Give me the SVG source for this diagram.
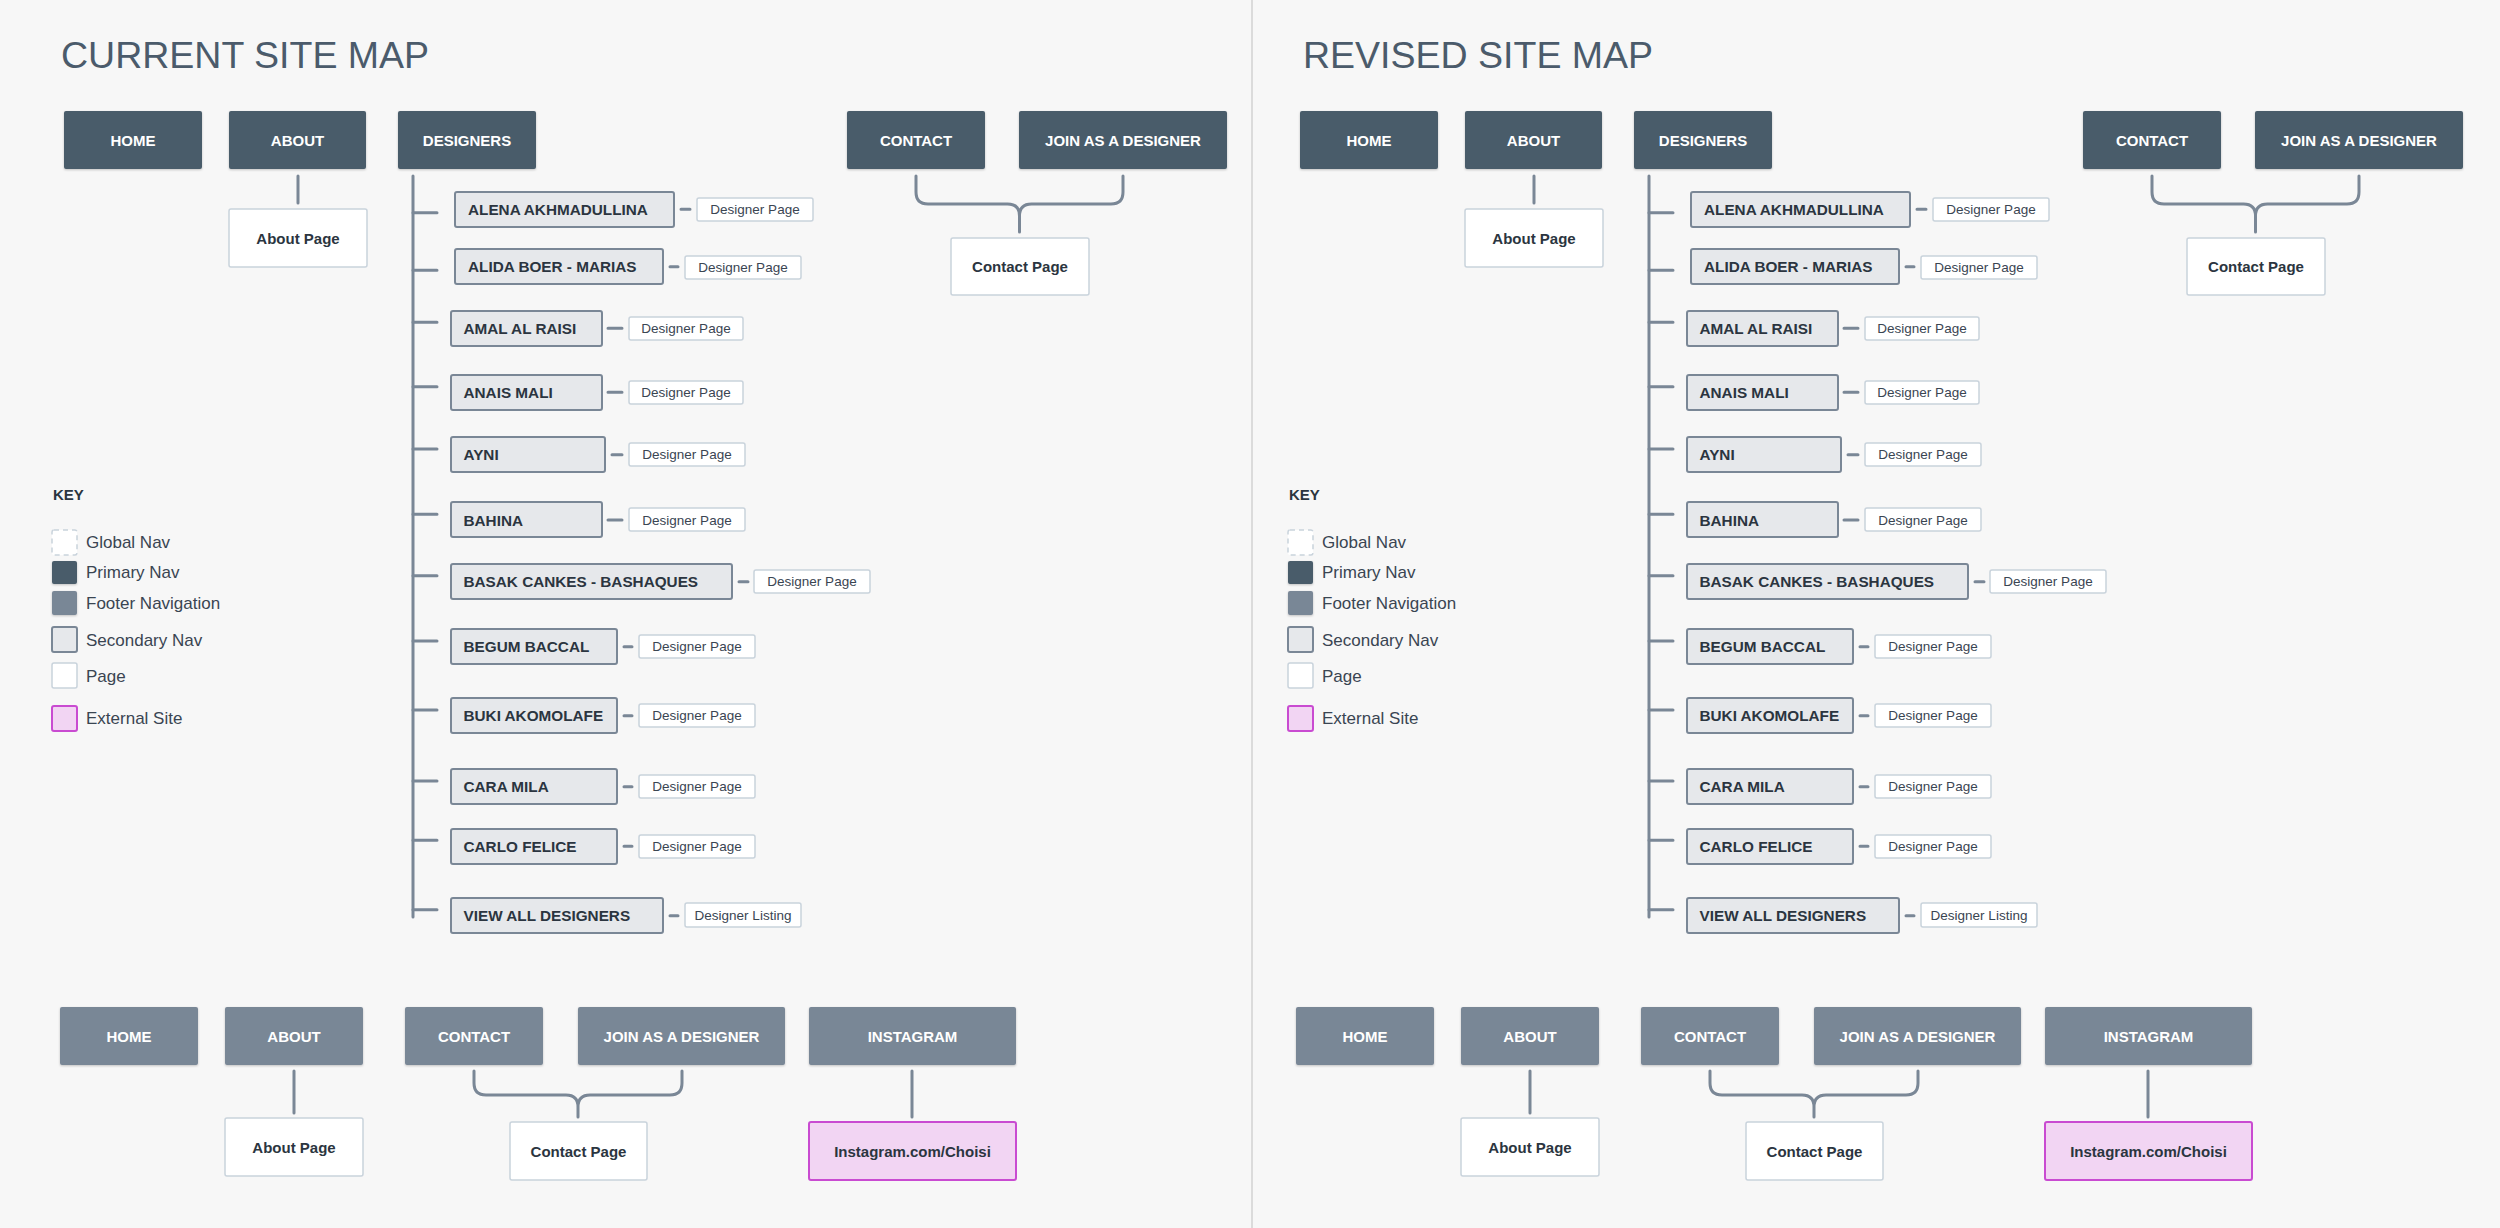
<svg xmlns="http://www.w3.org/2000/svg" width="2500" height="1228" viewBox="0 0 2500 1228">
<style>
.title{font-family:"Liberation Sans",Arial,sans-serif;font-size:37.5px;fill:#4b5b6b}
.pn{fill:#4a5b6b}
.fn{fill:#798796}
.sn{fill:#e6e8eb;stroke:#7a8796;stroke-width:2}
.pg{fill:#fff;stroke:#c9d3dc;stroke-width:1.5}
.ext{fill:#f2d5f3;stroke:#c94bd1;stroke-width:2}
.gn{fill:#fff;stroke:#c9d3dc;stroke-width:1.5;stroke-dasharray:5 4}
.tw{font-family:"Liberation Sans",Arial,sans-serif;font-weight:bold;font-size:15px;fill:#fff;text-anchor:middle}
.td{font-family:"Liberation Sans",Arial,sans-serif;font-weight:bold;font-size:15px;fill:#2b3540;text-anchor:middle}
.ts{font-family:"Liberation Sans",Arial,sans-serif;font-weight:bold;font-size:15.3px;fill:#2b3540}
.tp{font-family:"Liberation Sans",Arial,sans-serif;font-size:13.5px;fill:#3a4552;text-anchor:middle}
.tk{font-family:"Liberation Sans",Arial,sans-serif;font-weight:bold;font-size:15px;fill:#2b3540}
.tl{font-family:"Liberation Sans",Arial,sans-serif;font-size:17px;fill:#3a4552}
.conn{stroke:#7a8796;stroke-width:3;fill:none;stroke-linecap:round}
.dash{stroke:#7a8796;stroke-width:3;fill:none;stroke-linecap:round}
</style>
<defs>
<filter id="sh" x="-10%" y="-10%" width="120%" height="130%">
<feDropShadow dx="0" dy="1" stdDeviation="1.2" flood-color="#000" flood-opacity="0.22"/>
</filter>
</defs>
<rect x="0" y="0" width="2500" height="1228" fill="#f7f7f7"/>
<line x1="1252" y1="0" x2="1252" y2="1228" stroke="#c8c8c8" stroke-width="1.2"/>

<!-- ===================== CURRENT ===================== -->
<g id="current">
<text class="title" x="61" y="68">CURRENT SITE MAP</text>

<g id="cur-connectors">
<path class="conn" d="M298,176 V203"/>
<path class="conn" d="M413,176 V917"/>
<path class="conn" d="M413,212.7 H437 M413,270.3 H437 M413,322.3 H437 M413,386.7 H437 M413,449 H437 M413,514.3 H437 M413,575.7 H437 M413,641 H437 M413,710 H437 M413,781 H437 M413,840.3 H437 M413,909.7 H437"/>
<path class="dash" d="M681,209.3 H690 M670,266.7 H678 M608,328.3 H622 M608,392.3 H622 M612,454.7 H622 M608,520 H622 M739,581.7 H748 M624,646.7 H632 M624,715.7 H632 M624,786.7 H632 M624,846.3 H632 M670,915.7 H678"/>
<path class="conn" d="M916,176 V192 Q916,204 928,204 H1007.5 Q1019.5,204 1019.5,216 V232 M1123,176 V192 Q1123,204 1111,204 H1031.5 Q1019.5,204 1019.5,216"/>
<path class="conn" d="M294,1071 V1113"/>
<path class="conn" d="M474,1071 V1083 Q474,1095 486,1095 H566 Q578,1095 578,1107 V1117 M682,1071 V1083 Q682,1095 670,1095 H590 Q578,1095 578,1107"/>
<path class="conn" d="M912,1071 V1117"/>
</g>

<g id="cur-home"><rect class="pn" filter="url(#sh)" x="64" y="111" width="138" height="58" rx="2"/><text class="tw" x="133" y="146">HOME</text></g>
<g id="cur-about"><rect class="pn" filter="url(#sh)" x="229" y="111" width="137" height="58" rx="2"/><text class="tw" x="297.5" y="146">ABOUT</text></g>
<g id="cur-designers"><rect class="pn" filter="url(#sh)" x="398" y="111" width="138" height="58" rx="2"/><text class="tw" x="467" y="146">DESIGNERS</text></g>
<g id="cur-contact"><rect class="pn" filter="url(#sh)" x="847" y="111" width="138" height="58" rx="2"/><text class="tw" x="916" y="146">CONTACT</text></g>
<g id="cur-join"><rect class="pn" filter="url(#sh)" x="1019" y="111" width="208" height="58" rx="2"/><text class="tw" x="1123" y="146">JOIN AS A DESIGNER</text></g>

<g id="cur-about-page"><rect class="pg" x="229" y="209" width="138" height="58" rx="2"/><text class="td" x="298" y="243.5">About Page</text></g>
<g id="cur-contact-page"><rect class="pg" x="951" y="238" width="138" height="57" rx="2"/><text class="td" x="1020" y="272">Contact Page</text></g>

<g id="cur-d1"><rect class="sn" x="455" y="192" width="219" height="35" rx="2"/><text class="ts" x="468" y="215">ALENA AKHMADULLINA</text></g>
<g id="cur-d1p"><rect class="pg" x="697" y="198" width="116" height="23" rx="2"/><text class="tp" x="755" y="214">Designer Page</text></g>
<g id="cur-d2"><rect class="sn" x="455" y="249" width="208" height="35" rx="2"/><text class="ts" x="468" y="272">ALIDA BOER - MARIAS</text></g>
<g id="cur-d2p"><rect class="pg" x="685" y="256" width="116" height="23" rx="2"/><text class="tp" x="743" y="272">Designer Page</text></g>
<g id="cur-d3"><rect class="sn" x="451" y="311" width="151" height="35" rx="2"/><text class="ts" x="463.5" y="334">AMAL AL RAISI</text></g>
<g id="cur-d3p"><rect class="pg" x="629" y="317" width="114" height="23" rx="2"/><text class="tp" x="686" y="333">Designer Page</text></g>
<g id="cur-d4"><rect class="sn" x="451" y="375" width="151" height="35" rx="2"/><text class="ts" x="463.5" y="398">ANAIS MALI</text></g>
<g id="cur-d4p"><rect class="pg" x="629" y="381" width="114" height="23" rx="2"/><text class="tp" x="686" y="397">Designer Page</text></g>
<g id="cur-d5"><rect class="sn" x="451" y="437" width="154" height="35" rx="2"/><text class="ts" x="463.5" y="460">AYNI</text></g>
<g id="cur-d5p"><rect class="pg" x="629" y="443" width="116" height="23" rx="2"/><text class="tp" x="687" y="459">Designer Page</text></g>
<g id="cur-d6"><rect class="sn" x="451" y="502" width="151" height="35" rx="2"/><text class="ts" x="463.5" y="525.5">BAHINA</text></g>
<g id="cur-d6p"><rect class="pg" x="629" y="508" width="116" height="23" rx="2"/><text class="tp" x="687" y="524.5">Designer Page</text></g>
<g id="cur-d7"><rect class="sn" x="451" y="564" width="281" height="35" rx="2"/><text class="ts" x="463.5" y="587">BASAK CANKES - BASHAQUES</text></g>
<g id="cur-d7p"><rect class="pg" x="754" y="570" width="116" height="23" rx="2"/><text class="tp" x="812" y="586">Designer Page</text></g>
<g id="cur-d8"><rect class="sn" x="451" y="629" width="166" height="35" rx="2"/><text class="ts" x="463.5" y="652">BEGUM BACCAL</text></g>
<g id="cur-d8p"><rect class="pg" x="639" y="635" width="116" height="23" rx="2"/><text class="tp" x="697" y="651">Designer Page</text></g>
<g id="cur-d9"><rect class="sn" x="451" y="698" width="166" height="35" rx="2"/><text class="ts" x="463.5" y="721">BUKI AKOMOLAFE</text></g>
<g id="cur-d9p"><rect class="pg" x="639" y="704" width="116" height="23" rx="2"/><text class="tp" x="697" y="720">Designer Page</text></g>
<g id="cur-d10"><rect class="sn" x="451" y="769" width="166" height="35" rx="2"/><text class="ts" x="463.5" y="792">CARA MILA</text></g>
<g id="cur-d10p"><rect class="pg" x="639" y="775" width="116" height="23" rx="2"/><text class="tp" x="697" y="791">Designer Page</text></g>
<g id="cur-d11"><rect class="sn" x="451" y="829" width="166" height="35" rx="2"/><text class="ts" x="463.5" y="852">CARLO FELICE</text></g>
<g id="cur-d11p"><rect class="pg" x="639" y="835" width="116" height="23" rx="2"/><text class="tp" x="697" y="851">Designer Page</text></g>
<g id="cur-d12"><rect class="sn" x="451" y="898" width="212" height="35" rx="2"/><text class="ts" x="463.5" y="921">VIEW ALL DESIGNERS</text></g>
<g id="cur-d12p"><rect class="pg" x="685" y="903" width="116" height="24" rx="2"/><text class="tp" x="743" y="919.5">Designer Listing</text></g>

<g id="cur-key">
<text class="tk" x="53" y="500">KEY</text>
<rect class="gn" x="52" y="530" width="25" height="25" rx="2"/><text class="tl" x="86" y="548">Global Nav</text>
<rect class="pn" filter="url(#sh)" x="52" y="561" width="25" height="23" rx="2"/><text class="tl" x="86" y="578">Primary Nav</text>
<rect class="fn" filter="url(#sh)" x="52" y="591" width="25" height="24" rx="2"/><text class="tl" x="86" y="609">Footer Navigation</text>
<rect class="sn" x="52" y="627" width="25" height="25" rx="2"/><text class="tl" x="86" y="646">Secondary Nav</text>
<rect class="pg" x="52" y="663" width="25" height="25" rx="2"/><text class="tl" x="86" y="682">Page</text>
<rect class="ext" x="52" y="706" width="25" height="25" rx="2"/><text class="tl" x="86" y="724">External Site</text>
</g>

<g id="cur-f-home"><rect class="fn" filter="url(#sh)" x="60" y="1007" width="138" height="58" rx="2"/><text class="tw" x="129" y="1042">HOME</text></g>
<g id="cur-f-about"><rect class="fn" filter="url(#sh)" x="225" y="1007" width="138" height="58" rx="2"/><text class="tw" x="294" y="1042">ABOUT</text></g>
<g id="cur-f-contact"><rect class="fn" filter="url(#sh)" x="405" y="1007" width="138" height="58" rx="2"/><text class="tw" x="474" y="1042">CONTACT</text></g>
<g id="cur-f-join"><rect class="fn" filter="url(#sh)" x="578" y="1007" width="207" height="58" rx="2"/><text class="tw" x="681.5" y="1042">JOIN AS A DESIGNER</text></g>
<g id="cur-f-instagram"><rect class="fn" filter="url(#sh)" x="809" y="1007" width="207" height="58" rx="2"/><text class="tw" x="912.5" y="1042">INSTAGRAM</text></g>
<g id="cur-f-about-page"><rect class="pg" x="225" y="1118" width="138" height="58" rx="2"/><text class="td" x="294" y="1152.5">About Page</text></g>
<g id="cur-f-contact-page"><rect class="pg" x="510" y="1122" width="137" height="58" rx="2"/><text class="td" x="578.5" y="1156.5">Contact Page</text></g>
<g id="cur-f-instagram-site"><rect class="ext" x="809" y="1122" width="207" height="58" rx="2"/><text class="td" x="912.5" y="1156.5">Instagram.com/Choisi</text></g>
</g>

<!-- ===================== REVISED ===================== -->
<g id="revised" transform="translate(1236 0)">
<text class="title" x="67" y="68">REVISED SITE MAP</text>

<g id="rev-connectors">
<path class="conn" d="M298,176 V203"/>
<path class="conn" d="M413,176 V917"/>
<path class="conn" d="M413,212.7 H437 M413,270.3 H437 M413,322.3 H437 M413,386.7 H437 M413,449 H437 M413,514.3 H437 M413,575.7 H437 M413,641 H437 M413,710 H437 M413,781 H437 M413,840.3 H437 M413,909.7 H437"/>
<path class="dash" d="M681,209.3 H690 M670,266.7 H678 M608,328.3 H622 M608,392.3 H622 M612,454.7 H622 M608,520 H622 M739,581.7 H748 M624,646.7 H632 M624,715.7 H632 M624,786.7 H632 M624,846.3 H632 M670,915.7 H678"/>
<path class="conn" d="M916,176 V192 Q916,204 928,204 H1007.5 Q1019.5,204 1019.5,216 V232 M1123,176 V192 Q1123,204 1111,204 H1031.5 Q1019.5,204 1019.5,216"/>
<path class="conn" d="M294,1071 V1113"/>
<path class="conn" d="M474,1071 V1083 Q474,1095 486,1095 H566 Q578,1095 578,1107 V1117 M682,1071 V1083 Q682,1095 670,1095 H590 Q578,1095 578,1107"/>
<path class="conn" d="M912,1071 V1117"/>
</g>

<g id="rev-home"><rect class="pn" filter="url(#sh)" x="64" y="111" width="138" height="58" rx="2"/><text class="tw" x="133" y="146">HOME</text></g>
<g id="rev-about"><rect class="pn" filter="url(#sh)" x="229" y="111" width="137" height="58" rx="2"/><text class="tw" x="297.5" y="146">ABOUT</text></g>
<g id="rev-designers"><rect class="pn" filter="url(#sh)" x="398" y="111" width="138" height="58" rx="2"/><text class="tw" x="467" y="146">DESIGNERS</text></g>
<g id="rev-contact"><rect class="pn" filter="url(#sh)" x="847" y="111" width="138" height="58" rx="2"/><text class="tw" x="916" y="146">CONTACT</text></g>
<g id="rev-join"><rect class="pn" filter="url(#sh)" x="1019" y="111" width="208" height="58" rx="2"/><text class="tw" x="1123" y="146">JOIN AS A DESIGNER</text></g>

<g id="rev-about-page"><rect class="pg" x="229" y="209" width="138" height="58" rx="2"/><text class="td" x="298" y="243.5">About Page</text></g>
<g id="rev-contact-page"><rect class="pg" x="951" y="238" width="138" height="57" rx="2"/><text class="td" x="1020" y="272">Contact Page</text></g>

<g id="rev-d1"><rect class="sn" x="455" y="192" width="219" height="35" rx="2"/><text class="ts" x="468" y="215">ALENA AKHMADULLINA</text></g>
<g id="rev-d1p"><rect class="pg" x="697" y="198" width="116" height="23" rx="2"/><text class="tp" x="755" y="214">Designer Page</text></g>
<g id="rev-d2"><rect class="sn" x="455" y="249" width="208" height="35" rx="2"/><text class="ts" x="468" y="272">ALIDA BOER - MARIAS</text></g>
<g id="rev-d2p"><rect class="pg" x="685" y="256" width="116" height="23" rx="2"/><text class="tp" x="743" y="272">Designer Page</text></g>
<g id="rev-d3"><rect class="sn" x="451" y="311" width="151" height="35" rx="2"/><text class="ts" x="463.5" y="334">AMAL AL RAISI</text></g>
<g id="rev-d3p"><rect class="pg" x="629" y="317" width="114" height="23" rx="2"/><text class="tp" x="686" y="333">Designer Page</text></g>
<g id="rev-d4"><rect class="sn" x="451" y="375" width="151" height="35" rx="2"/><text class="ts" x="463.5" y="398">ANAIS MALI</text></g>
<g id="rev-d4p"><rect class="pg" x="629" y="381" width="114" height="23" rx="2"/><text class="tp" x="686" y="397">Designer Page</text></g>
<g id="rev-d5"><rect class="sn" x="451" y="437" width="154" height="35" rx="2"/><text class="ts" x="463.5" y="460">AYNI</text></g>
<g id="rev-d5p"><rect class="pg" x="629" y="443" width="116" height="23" rx="2"/><text class="tp" x="687" y="459">Designer Page</text></g>
<g id="rev-d6"><rect class="sn" x="451" y="502" width="151" height="35" rx="2"/><text class="ts" x="463.5" y="525.5">BAHINA</text></g>
<g id="rev-d6p"><rect class="pg" x="629" y="508" width="116" height="23" rx="2"/><text class="tp" x="687" y="524.5">Designer Page</text></g>
<g id="rev-d7"><rect class="sn" x="451" y="564" width="281" height="35" rx="2"/><text class="ts" x="463.5" y="587">BASAK CANKES - BASHAQUES</text></g>
<g id="rev-d7p"><rect class="pg" x="754" y="570" width="116" height="23" rx="2"/><text class="tp" x="812" y="586">Designer Page</text></g>
<g id="rev-d8"><rect class="sn" x="451" y="629" width="166" height="35" rx="2"/><text class="ts" x="463.5" y="652">BEGUM BACCAL</text></g>
<g id="rev-d8p"><rect class="pg" x="639" y="635" width="116" height="23" rx="2"/><text class="tp" x="697" y="651">Designer Page</text></g>
<g id="rev-d9"><rect class="sn" x="451" y="698" width="166" height="35" rx="2"/><text class="ts" x="463.5" y="721">BUKI AKOMOLAFE</text></g>
<g id="rev-d9p"><rect class="pg" x="639" y="704" width="116" height="23" rx="2"/><text class="tp" x="697" y="720">Designer Page</text></g>
<g id="rev-d10"><rect class="sn" x="451" y="769" width="166" height="35" rx="2"/><text class="ts" x="463.5" y="792">CARA MILA</text></g>
<g id="rev-d10p"><rect class="pg" x="639" y="775" width="116" height="23" rx="2"/><text class="tp" x="697" y="791">Designer Page</text></g>
<g id="rev-d11"><rect class="sn" x="451" y="829" width="166" height="35" rx="2"/><text class="ts" x="463.5" y="852">CARLO FELICE</text></g>
<g id="rev-d11p"><rect class="pg" x="639" y="835" width="116" height="23" rx="2"/><text class="tp" x="697" y="851">Designer Page</text></g>
<g id="rev-d12"><rect class="sn" x="451" y="898" width="212" height="35" rx="2"/><text class="ts" x="463.5" y="921">VIEW ALL DESIGNERS</text></g>
<g id="rev-d12p"><rect class="pg" x="685" y="903" width="116" height="24" rx="2"/><text class="tp" x="743" y="919.5">Designer Listing</text></g>

<g id="rev-key">
<text class="tk" x="53" y="500">KEY</text>
<rect class="gn" x="52" y="530" width="25" height="25" rx="2"/><text class="tl" x="86" y="548">Global Nav</text>
<rect class="pn" filter="url(#sh)" x="52" y="561" width="25" height="23" rx="2"/><text class="tl" x="86" y="578">Primary Nav</text>
<rect class="fn" filter="url(#sh)" x="52" y="591" width="25" height="24" rx="2"/><text class="tl" x="86" y="609">Footer Navigation</text>
<rect class="sn" x="52" y="627" width="25" height="25" rx="2"/><text class="tl" x="86" y="646">Secondary Nav</text>
<rect class="pg" x="52" y="663" width="25" height="25" rx="2"/><text class="tl" x="86" y="682">Page</text>
<rect class="ext" x="52" y="706" width="25" height="25" rx="2"/><text class="tl" x="86" y="724">External Site</text>
</g>

<g id="rev-f-home"><rect class="fn" filter="url(#sh)" x="60" y="1007" width="138" height="58" rx="2"/><text class="tw" x="129" y="1042">HOME</text></g>
<g id="rev-f-about"><rect class="fn" filter="url(#sh)" x="225" y="1007" width="138" height="58" rx="2"/><text class="tw" x="294" y="1042">ABOUT</text></g>
<g id="rev-f-contact"><rect class="fn" filter="url(#sh)" x="405" y="1007" width="138" height="58" rx="2"/><text class="tw" x="474" y="1042">CONTACT</text></g>
<g id="rev-f-join"><rect class="fn" filter="url(#sh)" x="578" y="1007" width="207" height="58" rx="2"/><text class="tw" x="681.5" y="1042">JOIN AS A DESIGNER</text></g>
<g id="rev-f-instagram"><rect class="fn" filter="url(#sh)" x="809" y="1007" width="207" height="58" rx="2"/><text class="tw" x="912.5" y="1042">INSTAGRAM</text></g>
<g id="rev-f-about-page"><rect class="pg" x="225" y="1118" width="138" height="58" rx="2"/><text class="td" x="294" y="1152.5">About Page</text></g>
<g id="rev-f-contact-page"><rect class="pg" x="510" y="1122" width="137" height="58" rx="2"/><text class="td" x="578.5" y="1156.5">Contact Page</text></g>
<g id="rev-f-instagram-site"><rect class="ext" x="809" y="1122" width="207" height="58" rx="2"/><text class="td" x="912.5" y="1156.5">Instagram.com/Choisi</text></g>
</g>
</svg>
